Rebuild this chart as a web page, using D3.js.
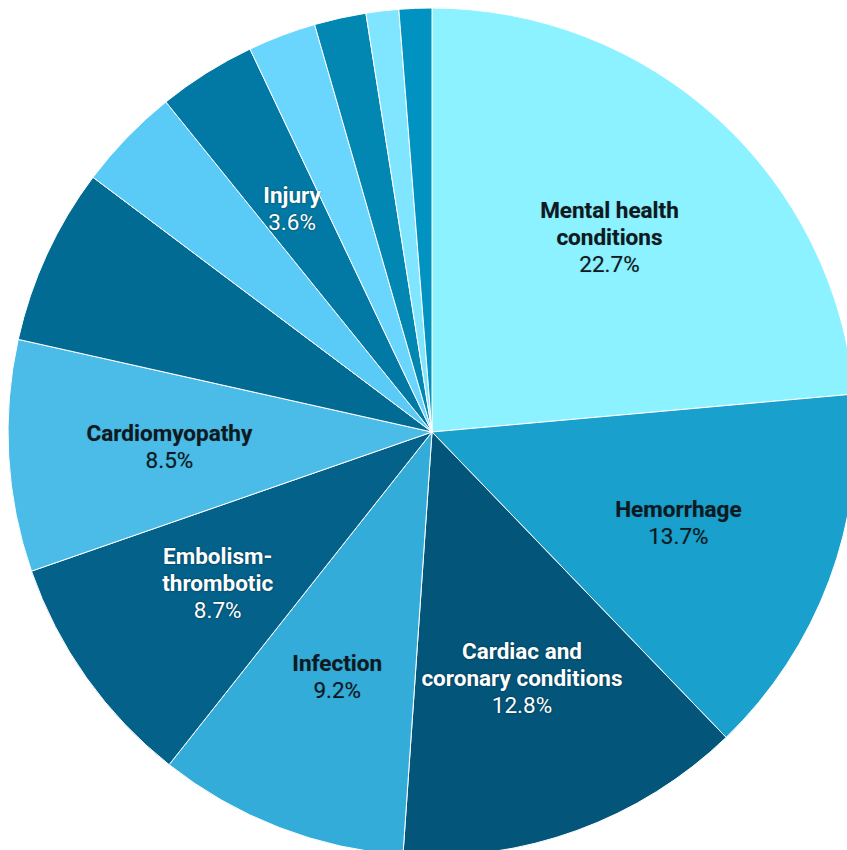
<!DOCTYPE html>
<html lang="en">
<head>
    <meta charset="UTF-8">
    <title>Causes of death pie</title>
    <script src="https://cdnjs.cloudflare.com/ajax/libs/d3/7.8.5/d3.min.js"></script>
    <style>
        * { margin: 0; padding: 0; box-sizing: border-box; }
        body { background: #fff; overflow: hidden; }
        #chart { width: 847px; height: 850px; }
        .slice-label { font-family: Roboto, 'Noto Sans', sans-serif; font-size: 22.5px; }
        .slice-label .name { font-weight: 700; }
        .slice-label.light { fill: #fff; text-shadow: 0 0 2px rgba(0,0,0,0.5); }
        .slice-label.dark { fill: #0d1a22; text-shadow: 0 0 1px rgba(0,0,0,0.3); }
    </style>
</head>
<body>
    <div id="chart"></div>

    <script>
        // slices, clockwise from 12 o'clock (empty name = unlabelled slice)
        const categories = [
            'Mental health conditions', 'Hemorrhage', 'Cardiac and coronary conditions',
            'Infection', 'Embolism-thrombotic', 'Cardiomyopathy',
            '', '', 'Injury', '', '', '', ''
        ];
        const values = [22.7, 13.7, 12.8, 9.2, 8.7, 8.5, 6.5, 3.8, 3.6, 2.5, 1.9, 1.2, 1.2];
        const colors = [
            '#8cf2ff', '#1aa0cc', '#03557a', '#34acd9', '#03618a', '#4bbbe8',
            '#026b94', '#5acbf7', '#0279a4', '#6ad5fd', '#0286b2', '#80e6ff', '#0093c1'
        ];
        // how the names wrap inside the slices
        const labelLines = {
            'Mental health conditions': ['Mental health', 'conditions'],
            'Hemorrhage': ['Hemorrhage'],
            'Cardiac and coronary conditions': ['Cardiac and', 'coronary conditions'],
            'Infection': ['Infection'],
            'Embolism-thrombotic': ['Embolism-', 'thrombotic'],
            'Cardiomyopathy': ['Cardiomyopathy'],
            'Injury': ['Injury']
        };
        const whiteText = ['Cardiac and coronary conditions', 'Embolism-thrombotic', 'Injury'];

        const width = 847, height = 850;
        const cx = 432, cy = 432, radius = 424;
        const lineH = 27;

        const data = categories.map((c, i) => ({ name: c, value: values[i], color: colors[i] }));

        const svg = d3.select('#chart').append('svg')
            .attr('width', width)
            .attr('height', height);

        const g = svg.append('g').attr('transform', `translate(${cx},${cy})`);

        const pie = d3.pie().sort(null).value(d => d.value);
        const arc = d3.arc().innerRadius(0).outerRadius(radius);
        const labelArc = d3.arc().innerRadius(263).outerRadius(263);

        const arcs = pie(data);

        g.selectAll('path.slice')
            .data(arcs)
            .enter()
            .append('path')
            .attr('class', 'slice')
            .attr('d', arc)
            .attr('fill', d => d.data.color)
            .attr('stroke', '#fff')
            .attr('stroke-width', 1);

        const fmt = v => d3.format('.1f')(v) + '%';

        const labels = g.selectAll('text.slice-label')
            .data(arcs.filter(d => d.data.name))
            .enter()
            .append('text')
            .attr('class', d => 'slice-label ' + (whiteText.includes(d.data.name) ? 'light' : 'dark'))
            .attr('text-anchor', 'middle')
            .attr('transform', d => `translate(${labelArc.centroid(d)})`);

        labels.each(function(d) {
            const lines = labelLines[d.data.name].slice();
            const n = lines.length + 1;
            const y0 = -(n - 1) / 2 * lineH + 7;
            const t = d3.select(this);
            lines.forEach((l, i) => {
                t.append('tspan').attr('class', 'name').attr('x', 0).attr('y', y0 + i * lineH).text(l);
            });
            t.append('tspan').attr('class', 'pct').attr('x', 0).attr('y', y0 + lines.length * lineH).text(fmt(d.data.value));
        });
    </script>
</body>
</html>
